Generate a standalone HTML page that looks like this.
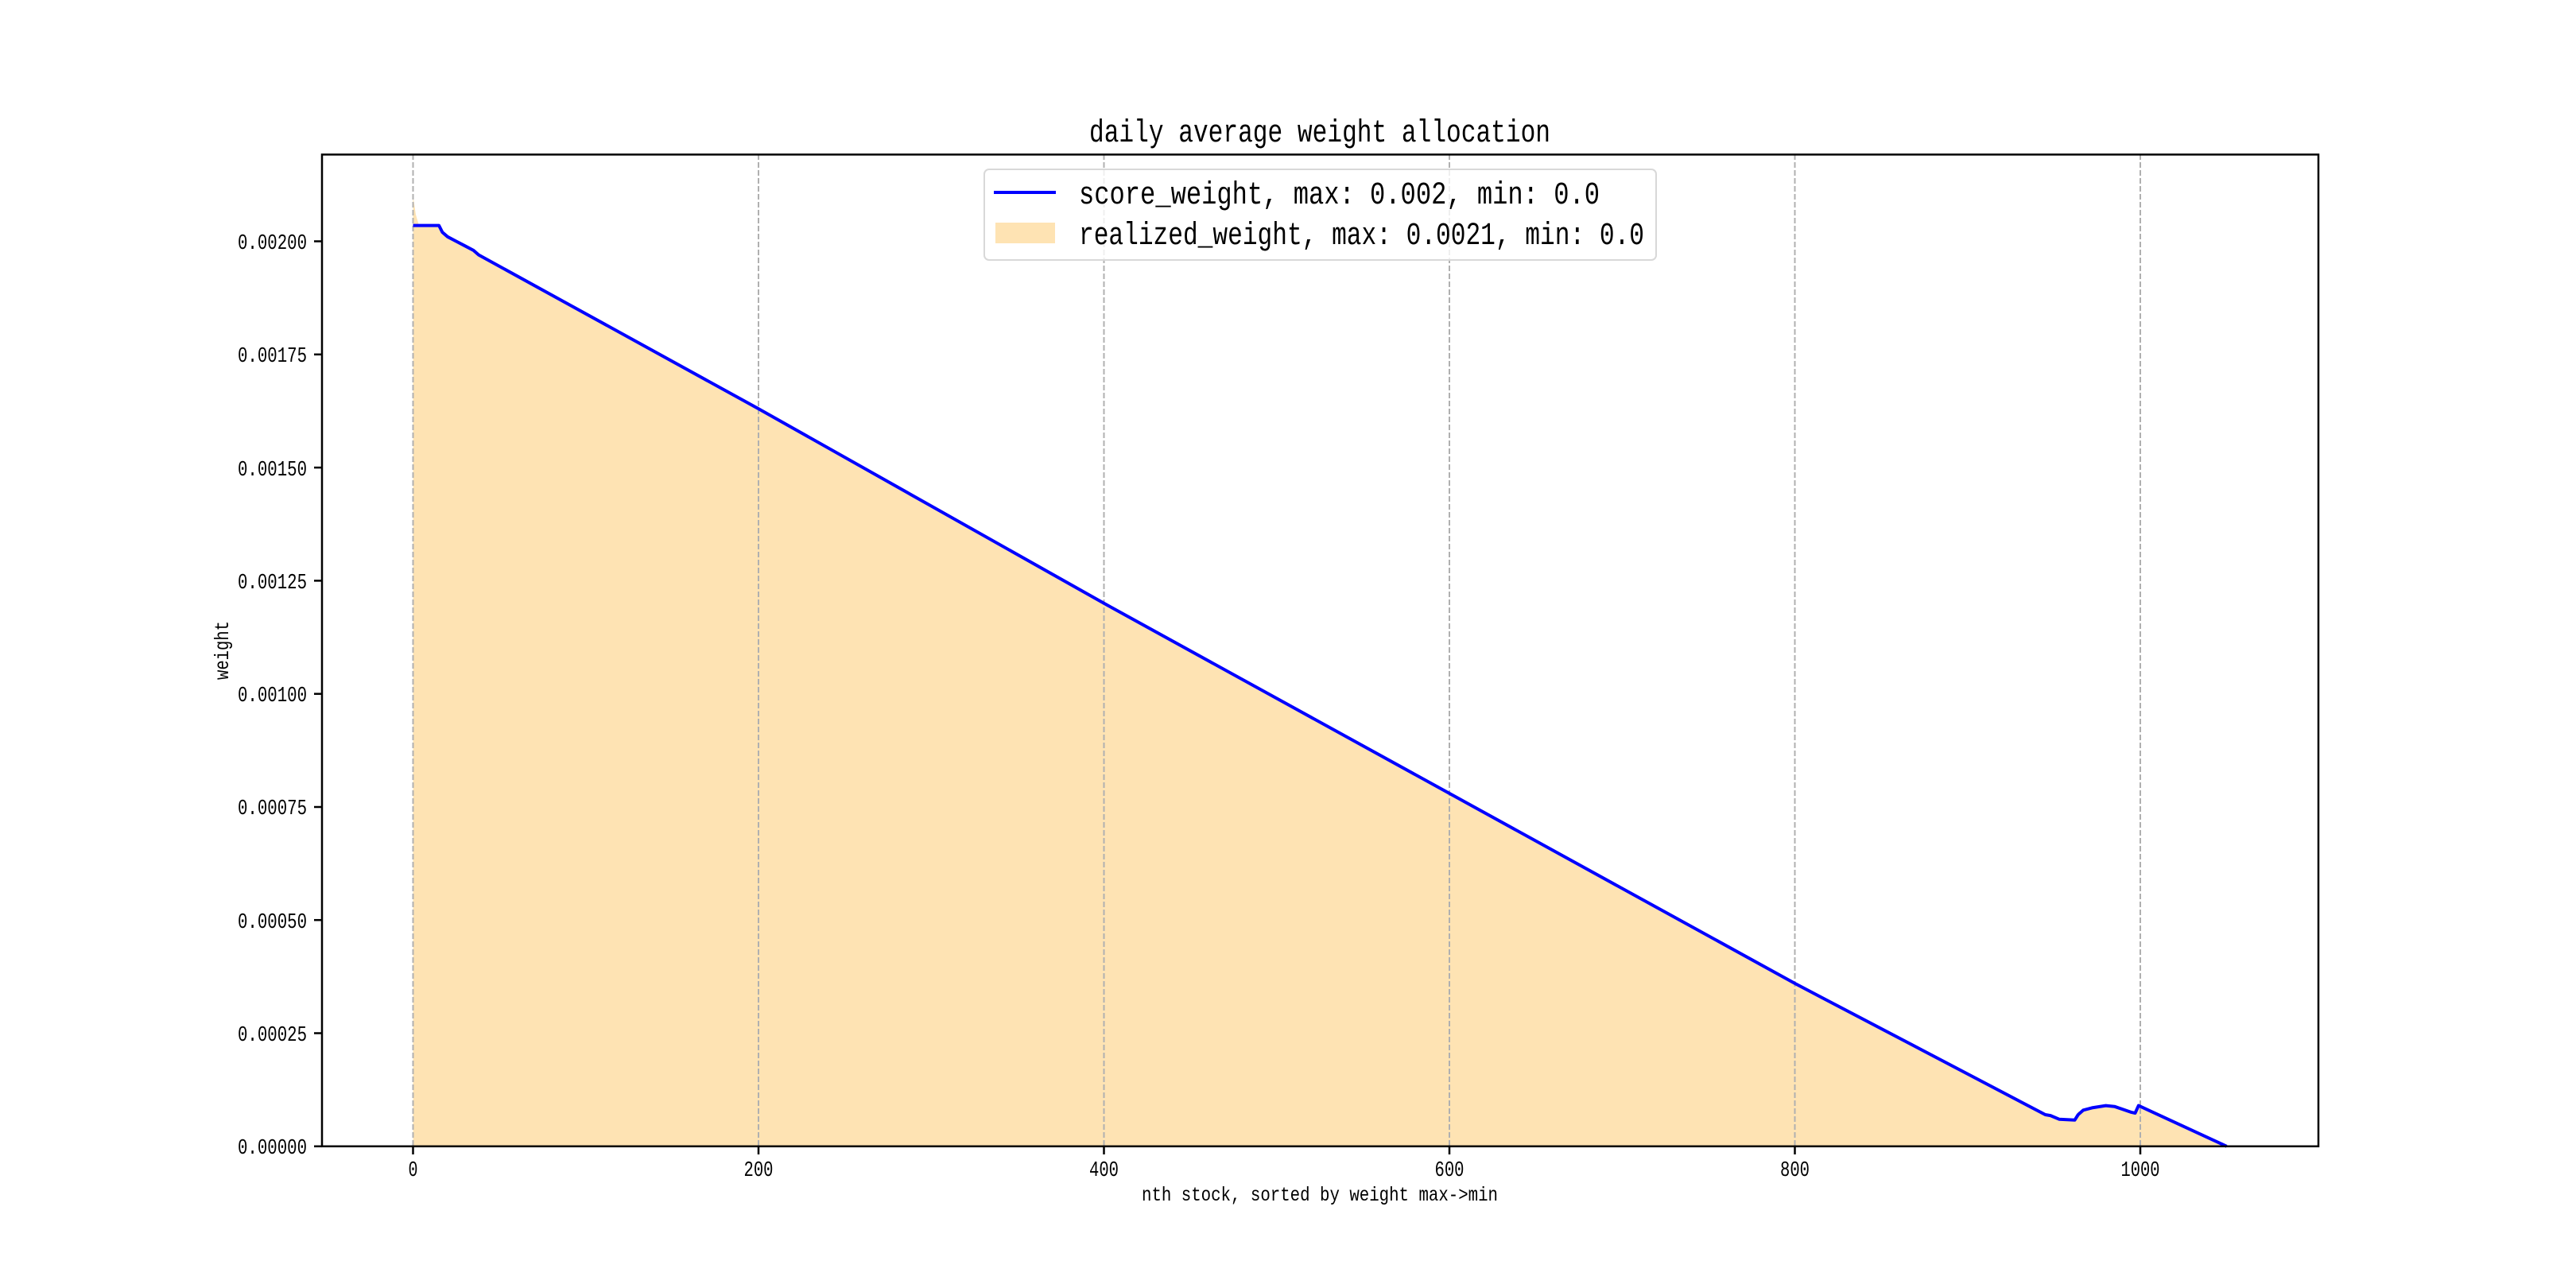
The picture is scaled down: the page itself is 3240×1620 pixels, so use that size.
<!DOCTYPE html>
<html><head><meta charset="utf-8"><style>
html,body{margin:0;padding:0;background:#fff;}
svg{display:block;}
text{font-family:"Liberation Mono","WenQuanYi Zen Hei",monospace;fill:#000;}
</style></head><body>
<svg width="3240" height="1620" viewBox="0 0 3240 1620" xmlns="http://www.w3.org/2000/svg">
<rect width="3240" height="1620" fill="#fff"/>
<polygon fill="#fee3b3" points="519.5,1441.8 519.5,246.6 523,270 527,283.6 552.1,283.6 556.4,292.1 563,297.8 573.8,303.5 584.7,309.2 595.5,314.9 602.1,320.6 954,514.1 1388.5,758.8 1823,997.9 2257.5,1236.9 2572.5,1402 2579,1403.1 2589.9,1407.7 2609.5,1410 2613.8,1398 2620.3,1398 2631.2,1395 2648.6,1392 2659.5,1393 2681.1,1401 2685.5,1402 2689.8,1392 2800.6,1441.8"/>
<g stroke="#b0b0b0" stroke-width="2" stroke-dasharray="7,3">
<line x1="519.5" y1="194" x2="519.5" y2="1442"/>
<line x1="954" y1="194" x2="954" y2="1442"/>
<line x1="1388.5" y1="194" x2="1388.5" y2="1442"/>
<line x1="1823" y1="194" x2="1823" y2="1442"/>
<line x1="2257.5" y1="194" x2="2257.5" y2="1442"/>
<line x1="2692" y1="194" x2="2692" y2="1442"/>
</g>
<polyline fill="none" stroke="#0000ff" stroke-width="4" stroke-linejoin="round" points="519.5,283.6 552.1,283.6 556.4,292.1 563,297.8 573.8,303.5 584.7,309.2 595.5,314.9 602.1,320.6 954,514.1 1388.5,758.8 1823,997.9 2257.5,1236.9 2572.5,1402 2579,1403.1 2589.9,1407.7 2609.5,1408.8 2613.8,1402 2620.3,1396.3 2631.2,1393.4 2648.6,1390.6 2659.5,1391.7 2681.1,1399.1 2685.5,1400 2689.8,1390.6 2800.6,1441.8"/>
<rect x="405" y="194.4" width="2511" height="1247.4" fill="none" stroke="#000" stroke-width="2.5"/>
<g stroke="#000" stroke-width="2.5">
<line x1="519.5" y1="1442" x2="519.5" y2="1452"/>
<line x1="954" y1="1442" x2="954" y2="1452"/>
<line x1="1388.5" y1="1442" x2="1388.5" y2="1452"/>
<line x1="1823" y1="1442" x2="1823" y2="1452"/>
<line x1="2257.5" y1="1442" x2="2257.5" y2="1452"/>
<line x1="2692" y1="1442" x2="2692" y2="1452"/>
<line x1="395" y1="1441.8" x2="405" y2="1441.8"/>
<line x1="395" y1="1299.5" x2="405" y2="1299.5"/>
<line x1="395" y1="1157.2" x2="405" y2="1157.2"/>
<line x1="395" y1="1015" x2="405" y2="1015"/>
<line x1="395" y1="872.7" x2="405" y2="872.7"/>
<line x1="395" y1="730.4" x2="405" y2="730.4"/>
<line x1="395" y1="588.1" x2="405" y2="588.1"/>
<line x1="395" y1="445.8" x2="405" y2="445.8"/>
<line x1="395" y1="303.5" x2="405" y2="303.5"/>
</g>
<g font-size="27" text-anchor="middle">
<text x="519.5" y="1479" textLength="12" lengthAdjust="spacingAndGlyphs">0</text>
<text x="954" y="1479" textLength="37" lengthAdjust="spacingAndGlyphs">200</text>
<text x="1388.5" y="1479" textLength="37" lengthAdjust="spacingAndGlyphs">400</text>
<text x="1823" y="1479" textLength="37" lengthAdjust="spacingAndGlyphs">600</text>
<text x="2257.5" y="1479" textLength="37" lengthAdjust="spacingAndGlyphs">800</text>
<text x="2692" y="1479" textLength="49" lengthAdjust="spacingAndGlyphs">1000</text>
</g>
<g font-size="27">
<text x="299" y="1451" textLength="87" lengthAdjust="spacingAndGlyphs">0.00000</text>
<text x="299" y="1309" textLength="87" lengthAdjust="spacingAndGlyphs">0.00025</text>
<text x="299" y="1167" textLength="87" lengthAdjust="spacingAndGlyphs">0.00050</text>
<text x="299" y="1024" textLength="87" lengthAdjust="spacingAndGlyphs">0.00075</text>
<text x="299" y="882" textLength="87" lengthAdjust="spacingAndGlyphs">0.00100</text>
<text x="299" y="740" textLength="87" lengthAdjust="spacingAndGlyphs">0.00125</text>
<text x="299" y="598" textLength="87" lengthAdjust="spacingAndGlyphs">0.00150</text>
<text x="299" y="455" textLength="87" lengthAdjust="spacingAndGlyphs">0.00175</text>
<text x="299" y="313" textLength="87" lengthAdjust="spacingAndGlyphs">0.00200</text>
</g>
<text x="1436" y="1510" font-size="25" textLength="448" lengthAdjust="spacingAndGlyphs">nth stock, sorted by weight max-&gt;min</text>
<text transform="translate(287,855) rotate(-90)" font-size="25" textLength="74" lengthAdjust="spacingAndGlyphs">weight</text>
<text x="1370" y="178" font-size="40" textLength="580" lengthAdjust="spacingAndGlyphs">daily average weight allocation</text>
<rect x="1238" y="213" width="845" height="114" rx="6" fill="#fff" fill-opacity="0.8" stroke="#d8d8d8" stroke-width="2"/>
<line x1="1250" y1="242" x2="1328" y2="242" stroke="#0000ff" stroke-width="4"/>
<rect x="1252" y="280" width="75" height="26" fill="#fee3b3"/>
<text x="1357" y="256" font-size="40" textLength="655" lengthAdjust="spacingAndGlyphs">score_weight, max: 0.002, min: 0.0</text>
<text x="1357" y="307" font-size="40" textLength="711" lengthAdjust="spacingAndGlyphs">realized_weight, max: 0.0021, min: 0.0</text>
</svg>
</body></html>
